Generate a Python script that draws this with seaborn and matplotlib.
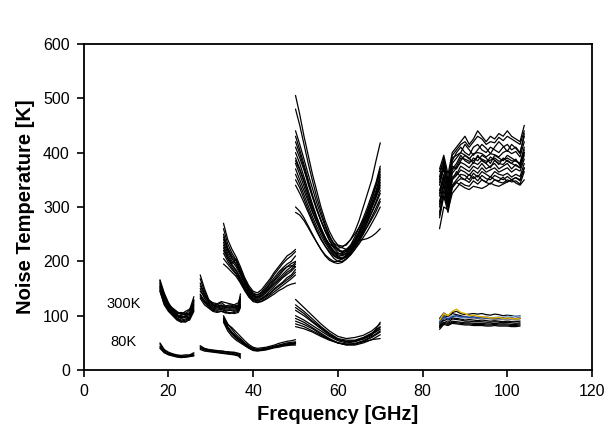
import numpy as np
import pandas as pd
import seaborn as sns
import matplotlib
matplotlib.use("Agg")
import matplotlib.pyplot as plt

# frequency grids for each receiver band [GHz]
f_k = [18, 19, 20, 21, 22, 23, 24, 25, 26]
f_ka = [27.5, 28.5, 29.5, 30.5, 31.5, 32.5, 33.5, 34.5, 35.5, 36.5, 37.0]
f_q = list(range(33, 51))
f_v = list(range(50, 71))
f_v80 = list(range(50, 71, 2))
f_w = list(range(84, 105))
f_w80 = list(range(84, 104))

# 300K noise temperatures [K]
t300_k = [
    [165, 135, 118, 108, 100, 98, 100, 104, 130],
    [158, 130, 115, 106, 98, 95, 97, 100, 122],
    [150, 125, 112, 104, 96, 92, 94, 96, 115],
    [162, 140, 122, 112, 104, 106, 104, 110, 135],
    [145, 120, 108, 100, 92, 88, 90, 92, 108],
    [155, 132, 118, 110, 102, 100, 105, 102, 125],
    [148, 128, 112, 102, 95, 90, 88, 94, 112],
    [160, 138, 120, 114, 108, 102, 108, 112, 128],
    [152, 128, 114, 106, 100, 96, 98, 96, 118],
    [166, 142, 124, 112, 106, 104, 102, 106, 126],
    [146, 122, 110, 102, 94, 90, 92, 95, 110],
    [154, 134, 118, 108, 101, 97, 99, 103, 120],
]
t300_ka = [
    [175, 150, 130, 122, 120, 124, 118, 120, 118, 120, 140],
    [160, 140, 126, 120, 118, 120, 115, 116, 115, 118, 132],
    [150, 132, 122, 116, 114, 116, 112, 113, 112, 114, 125],
    [140, 126, 118, 112, 110, 112, 108, 110, 108, 110, 120],
    [132, 120, 114, 108, 106, 108, 105, 106, 104, 106, 115],
    [145, 135, 128, 124, 122, 126, 124, 122, 120, 124, 135],
    [135, 124, 116, 110, 108, 109, 106, 104, 106, 108, 118],
    [168, 145, 128, 120, 116, 118, 114, 116, 114, 116, 128],
    [138, 128, 120, 114, 112, 114, 110, 111, 110, 112, 122],
    [155, 138, 124, 118, 116, 119, 117, 118, 116, 118, 130],
]
t300_q = [
    [270, 240, 222, 208, 190, 170, 155, 145, 142, 148, 158, 168, 180, 190, 200, 210, 215, 222],
    [250, 225, 210, 200, 182, 165, 150, 140, 138, 142, 150, 160, 170, 180, 188, 195, 200, 210],
    [235, 215, 200, 190, 175, 158, 145, 135, 132, 135, 142, 150, 158, 165, 172, 180, 185, 195],
    [220, 205, 192, 182, 168, 152, 140, 131, 128, 130, 136, 142, 150, 156, 162, 170, 175, 185],
    [205, 195, 185, 176, 162, 148, 136, 128, 125, 127, 132, 138, 144, 150, 156, 162, 168, 175],
    [230, 210, 196, 205, 178, 160, 146, 138, 135, 140, 148, 158, 166, 176, 185, 190, 196, 200],
    [195, 188, 180, 172, 160, 146, 134, 126, 124, 126, 130, 135, 140, 146, 150, 155, 158, 160],
    [245, 220, 205, 195, 180, 162, 148, 138, 134, 138, 146, 154, 164, 172, 182, 190, 192, 190],
    [260, 232, 215, 202, 186, 168, 152, 142, 138, 144, 154, 164, 176, 186, 196, 204, 210, 218],
    [215, 200, 188, 178, 165, 150, 138, 130, 127, 130, 135, 141, 148, 154, 160, 166, 172, 180],
    [240, 222, 206, 194, 178, 160, 147, 137, 133, 136, 144, 152, 160, 168, 176, 184, 190, 198],
    [225, 206, 194, 184, 170, 154, 142, 133, 130, 132, 138, 146, 154, 162, 170, 176, 182, 190],
]
t300_v = [
    [505, 470, 430, 395, 360, 330, 300, 275, 255, 240, 230, 228, 230, 240, 255, 275, 300, 325, 350, 385, 418],
    [480, 450, 415, 380, 348, 318, 292, 268, 248, 232, 222, 218, 222, 230, 245, 262, 280, 300, 322, 345, 375],
    [430, 405, 378, 350, 322, 298, 275, 255, 238, 225, 216, 212, 215, 222, 235, 250, 268, 288, 308, 330, 355],
    [400, 380, 355, 330, 305, 282, 262, 244, 230, 218, 210, 206, 210, 218, 230, 244, 260, 278, 298, 318, 340],
    [380, 360, 338, 315, 292, 272, 254, 238, 225, 215, 208, 205, 208, 215, 226, 240, 255, 272, 290, 310, 330],
    [350, 335, 315, 295, 276, 258, 242, 228, 216, 206, 200, 200, 205, 212, 222, 236, 250, 266, 282, 298, 315],
    [300, 292, 280, 265, 250, 235, 222, 210, 202, 198, 196, 198, 204, 212, 222, 232, 244, 256, 270, 284, 300],
    [290, 285, 275, 262, 248, 235, 222, 212, 205, 200, 200, 205, 212, 222, 232, 238, 240, 242, 246, 252, 260],
    [410, 390, 368, 342, 318, 295, 275, 258, 244, 234, 228, 225, 222, 222, 228, 240, 255, 275, 300, 325, 360],
    [370, 350, 330, 310, 290, 272, 256, 242, 232, 226, 224, 226, 232, 240, 250, 262, 276, 290, 305, 320, 335],
    [420, 398, 372, 345, 320, 296, 275, 256, 240, 228, 220, 216, 218, 225, 238, 254, 272, 292, 314, 338, 365],
    [390, 370, 348, 324, 300, 280, 260, 244, 230, 220, 212, 210, 214, 222, 234, 248, 264, 282, 300, 318, 345],
    [360, 342, 322, 302, 282, 264, 248, 234, 222, 212, 206, 204, 208, 216, 228, 242, 258, 274, 290, 306, 325],
    [340, 325, 308, 290, 272, 255, 240, 228, 218, 210, 205, 205, 210, 218, 228, 240, 252, 264, 278, 292, 310],
    [440, 415, 388, 360, 334, 308, 285, 264, 246, 232, 222, 218, 220, 228, 240, 256, 274, 294, 316, 340, 370],
    [385, 368, 346, 322, 298, 278, 258, 242, 228, 218, 214, 214, 218, 226, 238, 252, 268, 284, 302, 322, 350],
]
t300_w = [
    [370, 395, 360, 400, 410, 420, 430, 415, 425, 440, 430, 420, 430, 425, 435, 430, 440, 430, 425, 420, 450],
    [350, 380, 340, 385, 400, 410, 400, 395, 410, 415, 405, 400, 410, 405, 400, 410, 415, 405, 410, 400, 430],
    [330, 360, 320, 370, 380, 395, 385, 380, 390, 385, 395, 390, 380, 395, 390, 385, 395, 390, 385, 380, 410],
    [310, 345, 305, 355, 360, 375, 370, 365, 375, 370, 380, 370, 375, 380, 370, 375, 380, 370, 378, 372, 395],
    [290, 330, 300, 340, 350, 360, 358, 350, 362, 355, 365, 360, 355, 365, 360, 358, 362, 355, 360, 356, 380],
    [260, 300, 295, 325, 335, 345, 340, 338, 348, 342, 350, 345, 342, 350, 346, 344, 350, 346, 348, 342, 365],
    [340, 370, 330, 375, 370, 385, 395, 390, 380, 395, 385, 380, 392, 386, 378, 390, 384, 380, 388, 376, 400],
    [300, 340, 310, 350, 365, 355, 350, 360, 352, 358, 350, 346, 356, 350, 348, 355, 346, 350, 354, 348, 372],
    [355, 390, 350, 390, 395, 400, 415, 405, 395, 405, 415, 408, 398, 410, 420, 412, 402, 415, 408, 398, 435],
    [280, 320, 290, 335, 345, 340, 335, 332, 338, 336, 334, 338, 344, 340, 338, 342, 346, 350, 344, 340, 350],
    [365, 385, 345, 395, 405, 415, 420, 410, 420, 430, 425, 415, 420, 418, 428, 422, 430, 425, 420, 415, 440],
    [345, 375, 335, 380, 390, 400, 395, 388, 398, 400, 398, 392, 398, 396, 392, 400, 404, 398, 402, 392, 420],
    [320, 352, 315, 362, 372, 382, 378, 372, 382, 378, 386, 380, 372, 386, 380, 378, 386, 380, 376, 372, 400],
    [305, 340, 302, 350, 358, 368, 364, 358, 368, 362, 372, 364, 368, 372, 364, 368, 372, 364, 370, 366, 388],
    [285, 322, 298, 338, 346, 352, 350, 345, 356, 348, 358, 352, 350, 358, 354, 350, 356, 350, 354, 350, 372],
    [325, 358, 322, 368, 375, 390, 388, 384, 385, 392, 388, 384, 386, 390, 384, 386, 390, 385, 384, 380, 405],
]

# 80K noise temperatures [K]
t80_k = [
    [48, 36, 31, 29, 27, 26, 26, 27, 30],
    [44, 34, 30, 28, 26, 25, 25, 26, 28],
    [42, 33, 29, 27, 25, 24, 24, 25, 27],
    [50, 38, 33, 30, 28, 27, 28, 28, 32],
    [40, 32, 28, 26, 24, 23, 24, 25, 26],
]
t80_ka = [
    [45, 40, 38, 37, 36, 35, 34, 33, 32, 30, 28],
    [42, 38, 36, 35, 34, 33, 33, 32, 30, 28, 26],
    [40, 37, 35, 34, 33, 32, 31, 30, 29, 27, 24],
    [38, 35, 34, 33, 32, 31, 30, 29, 28, 26, 22],
    [43, 39, 37, 36, 35, 35, 34, 33, 33, 31, 30],
]
t80_q = [
    [100, 85, 75, 65, 58, 50, 44, 40, 38, 39, 40, 42, 44, 46, 48, 50, 51, 52],
    [95, 80, 70, 62, 55, 48, 42, 38, 37, 38, 39, 41, 43, 45, 47, 48, 49, 50],
    [92, 76, 66, 58, 52, 46, 41, 37, 36, 37, 38, 40, 42, 44, 45, 46, 47, 48],
    [88, 72, 62, 55, 50, 45, 40, 36, 35, 36, 37, 39, 41, 42, 44, 45, 46, 46],
    [98, 84, 78, 70, 62, 54, 47, 42, 40, 41, 42, 44, 46, 49, 51, 53, 54, 56],
    [90, 78, 68, 60, 56, 50, 44, 39, 37, 38, 39, 41, 43, 45, 46, 47, 48, 49],
    [94, 78, 68, 60, 54, 47, 42, 38, 36, 37, 39, 41, 43, 45, 47, 48, 49, 51],
]
t80_v = [
    [130, 115, 100, 85, 72, 62, 58, 60, 64, 72, 85],
    [120, 108, 94, 80, 68, 58, 55, 55, 60, 68, 80],
    [100, 92, 82, 72, 62, 54, 50, 52, 58, 66, 75],
    [95, 88, 78, 68, 58, 50, 47, 49, 54, 62, 72],
    [85, 80, 72, 64, 56, 50, 46, 46, 50, 56, 65],
    [80, 76, 70, 62, 55, 50, 48, 48, 52, 56, 58],
    [110, 100, 88, 76, 64, 56, 52, 53, 57, 64, 88],
    [115, 104, 90, 78, 66, 57, 53, 54, 59, 66, 78],
    [90, 84, 76, 66, 57, 50, 47, 48, 53, 60, 70],
]
t80_w = [
    [90, 100, 98, 104, 102, 100, 98, 99, 97, 96, 97, 96, 95, 96, 95, 94, 95, 94, 94, 95],
    [85, 95, 92, 96, 95, 94, 92, 93, 92, 91, 92, 91, 90, 91, 90, 89, 90, 89, 89, 90],
    [80, 88, 86, 90, 89, 88, 87, 87, 86, 86, 86, 85, 85, 86, 85, 85, 85, 84, 84, 85],
    [75, 84, 82, 86, 85, 84, 83, 83, 82, 82, 82, 81, 81, 82, 81, 81, 81, 80, 80, 81],
    [95, 105, 100, 106, 108, 104, 102, 103, 104, 103, 104, 102, 101, 103, 102, 100, 101, 100, 99, 100],
    [82, 92, 88, 94, 93, 92, 90, 90, 89, 89, 89, 88, 88, 89, 88, 87, 88, 87, 86, 87],
    [78, 86, 84, 88, 87, 86, 85, 85, 84, 84, 84, 83, 83, 84, 83, 83, 83, 82, 82, 83],
]
t80_w_grey = [88, 98, 95, 100, 99, 97, 96, 96, 95, 95, 94, 95, 94, 93, 94, 93, 92, 93, 92, 92]
t80_w_yellow = [92, 104, 100, 108, 112, 106, 104, 100, 101, 99, 98, 97, 96, 96, 97, 95, 96, 95, 94, 96]
t80_w_blue = [88, 98, 94, 98, 100, 98, 98, 97, 98, 96, 97, 95, 96, 95, 96, 96, 95, 96, 95, 97]
t80_w_lblue = [90, 96, 96, 100, 98, 96, 97, 99, 96, 98, 97, 99, 96, 97, 98, 97, 99, 98, 100, 99]

sns.set_style("ticks")
plt.rcParams["font.family"] = ["Liberation Sans", "DejaVu Sans"]
plt.rcParams["text.color"] = "black"
plt.rcParams["axes.labelcolor"] = "black"

fig, ax = plt.subplots(figsize=(6.11, 4.38), dpi=100)
fig.subplots_adjust(left=0.137, right=0.969, bottom=0.155, top=0.90)

bands = [
    (f_k, t300_k), (f_ka, t300_ka), (f_q, t300_q), (f_v, t300_v), (f_w, t300_w),
    (f_k, t80_k), (f_ka, t80_ka), (f_q, t80_q), (f_v80, t80_v), (f_w80, t80_w),
]
for freqs, curves in bands:
    for c in curves:
        sns.lineplot(x=freqs, y=c, color="black", lw=0.9, sort=False, ax=ax)

# coloured traces in the W-band 80K set
for c, col in [(t80_w_grey, "#808080"), (t80_w_lblue, "#8fb4e3"),
               (t80_w_blue, "#1f3f8f"), (t80_w_yellow, "#e0b000")]:
    sns.lineplot(x=f_w80, y=c, color=col, lw=1.0, sort=False, ax=ax)

ax.text(9.5, 121, "300K", fontsize=10.5, ha="center", va="center", color="black")
ax.text(9.3, 51, "80K", fontsize=10.5, ha="center", va="center", color="black")

ax.set_xlim(0, 120)
ax.set_ylim(0, 600)
ax.set_xticks(range(0, 121, 20))
ax.set_yticks(range(0, 601, 100))
ax.tick_params(direction="out", length=5, width=1.2, labelsize=11.5,
               colors="black", labelcolor="black", pad=5)
for s in ax.spines.values():
    s.set_visible(True)
    s.set_color("black")
    s.set_linewidth(1.3)
ax.set_xlabel("Frequency [GHz]", fontsize=14.5, fontweight="bold", labelpad=4, color="black")
ax.set_ylabel("Noise Temperature [K]", fontsize=14.5, fontweight="bold", labelpad=6, color="black")

fig.savefig("out.png", dpi=100)
